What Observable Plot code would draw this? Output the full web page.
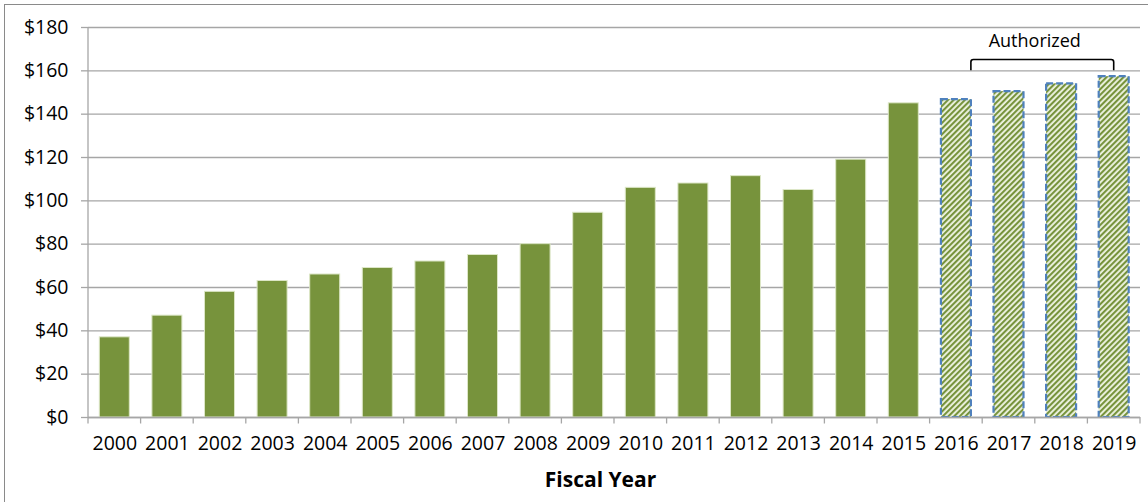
<!DOCTYPE html>
<html>
<head>
<meta charset="utf-8">
<script src="https://cdn.jsdelivr.net/npm/d3@7"></script>
<script src="https://cdn.jsdelivr.net/npm/@observablehq/plot@0.6"></script>
<style>
  html, body { margin: 0; padding: 0; background: #fff; }
  #wrap { position: relative; width: 1148px; height: 502px; overflow: hidden; }
  #frame { position: absolute; left: 4px; top: 4px; width: 1150px; height: 510px;
           border-left: 1.5px solid #8a8a8a; border-top: 1.5px solid #8a8a8a; box-sizing: border-box; }
  #chart { position: absolute; left: 0; top: 0; }
</style>
</head>
<body>
<svg width="0" height="0" style="position:absolute">
  <defs>
    <pattern id="hatch" patternUnits="userSpaceOnUse" width="4" height="4" patternTransform="rotate(45)">
      <rect width="4" height="4" fill="#eef3e1"></rect>
      <rect width="2.1" height="4" fill="#77933C"></rect>
    </pattern>
  </defs>
</svg>
<div id="wrap"><div id="frame"></div><div id="chart"></div></div>
<script>
// ---- data ----
const years = ["2000","2001","2002","2003","2004","2005","2006","2007","2008","2009",
               "2010","2011","2012","2013","2014","2015","2016","2017","2018","2019"];
const values = [37, 47, 58, 63, 66, 69, 72, 75, 80, 94.5,
                106, 108, 111.4, 105, 119, 145, 146.7, 150.4, 154, 157.3];
const kinds = ["actual","actual","actual","actual","actual","actual","actual","actual","actual","actual",
               "actual","actual","actual","actual","actual","actual","authorized","authorized","authorized","authorized"];
const yTicks = [0, 20, 40, 60, 80, 100, 120, 140, 160, 180];
const xTitle = "Fiscal Year";
const bracketLabel = "Authorized";
const bracketFrom = "2016", bracketTo = "2019", bracketLabelAt = "2018";
const bracketTop = 165, bracketBottom = 160, bracketLabelY = 171;

const data = years.map((y, i) => ({year: y, value: values[i], kind: kinds[i]}));
const actual = data.filter(d => d.kind === "actual");
const authorized = data.filter(d => d.kind === "authorized");

const gridColor = "#a6a6a6";
const padInner = 0.43;

function bandInfo(x) {
  const step = x(years[1]) - x(years[0]);
  const bw = step * (1 - padInner);
  return {step, bw, gap: step - bw};
}

// y-axis line
const yAxisLine = (index, scales, values, dim) => {
  const g = d3.create("svg:g");
  g.append("line")
    .attr("x1", dim.marginLeft).attr("x2", dim.marginLeft)
    .attr("y1", scales.y(yTicks[yTicks.length - 1])).attr("y2", scales.y(0))
    .attr("stroke", gridColor).attr("stroke-width", 1.3);
  return g.node();
};

// x tick marks at band boundaries
const xBoundaryTicks = (index, scales, values, dim) => {
  const {step, bw, gap} = bandInfo(scales.x);
  const g = d3.create("svg:g");
  const y0 = scales.y(0);
  const xs = years.map(y => scales.x(y) - gap / 2);
  xs.push(scales.x(years[years.length - 1]) + bw + gap / 2);
  for (const xv of xs) {
    g.append("line").attr("x1", xv).attr("x2", xv).attr("y1", y0).attr("y2", y0 + 6.5)
      .attr("stroke", gridColor).attr("stroke-width", 1.3);
  }
  return g.node();
};

// bracket annotation
const bracket = (index, scales, values, dim) => {
  const {step, bw, gap} = bandInfo(scales.x);
  const x1 = scales.x(bracketFrom) + bw;
  const x2 = scales.x(bracketTo) + bw / 2;
  const yt = scales.y(bracketTop), yb = scales.y(bracketBottom);
  const r = 2.5;
  const g = d3.create("svg:g");
  g.append("path")
    .attr("d", `M${x1},${yb}L${x1},${yt + r}Q${x1},${yt} ${x1 + r},${yt}L${x2 - r},${yt}Q${x2},${yt} ${x2},${yt + r}L${x2},${yb}`)
    .attr("fill", "none").attr("stroke", "#000").attr("stroke-width", 1.6);
  g.append("text")
    .attr("x", scales.x(bracketLabelAt) - gap / 2)
    .attr("y", scales.y(bracketLabelY))
    .attr("text-anchor", "middle")
    .attr("font-size", 18)
    .attr("fill", "#000")
    .text(bracketLabel);
  return g.node();
};

const chart = Plot.plot({
  width: 1148,
  height: 502,
  marginLeft: 88,
  marginRight: 8,
  marginTop: 27,
  marginBottom: 85,
  style: {fontFamily: "'Open Sans', sans-serif", fontSize: "19px", color: "#000", background: "transparent", overflow: "visible"},
  x: {type: "band", domain: years, paddingInner: padInner, paddingOuter: padInner / 2, round: false, label: null},
  y: {domain: [0, 180], label: null},
  marks: [
    Plot.gridY(yTicks, {stroke: gridColor, strokeOpacity: 1, strokeWidth: 1.3}),
    Plot.axisY(yTicks, {tickSize: 7, tickPadding: 13, tickFormat: d => "$" + d, stroke: gridColor, strokeOpacity: 1, strokeWidth: 1.3, label: null, fill: "#000", fontSize: 19.5}),
    Plot.axisX({tickSize: 0, tickPadding: 19, label: null, fill: "#000", fontSize: 19.5}),
    yAxisLine,
    xBoundaryTicks,
    Plot.barY(actual, {x: "year", y: "value", fill: "#77933C", stroke: "#dce6c6", strokeWidth: 1}),
    Plot.barY(authorized, {x: "year", y: "value", fill: "url(#hatch)", stroke: "#4F81BD", strokeWidth: 2.2, strokeDasharray: "7,3"}),
    Plot.ruleY([0], {stroke: gridColor, strokeWidth: 1.3}),
    bracket,
    Plot.text([xTitle], {frameAnchor: "bottom", dx: -14, dy: 69, fontSize: 21, fontWeight: "bold", fill: "#000"})
  ]
});
document.getElementById("chart").appendChild(chart);
</script>
</body>
</html>
